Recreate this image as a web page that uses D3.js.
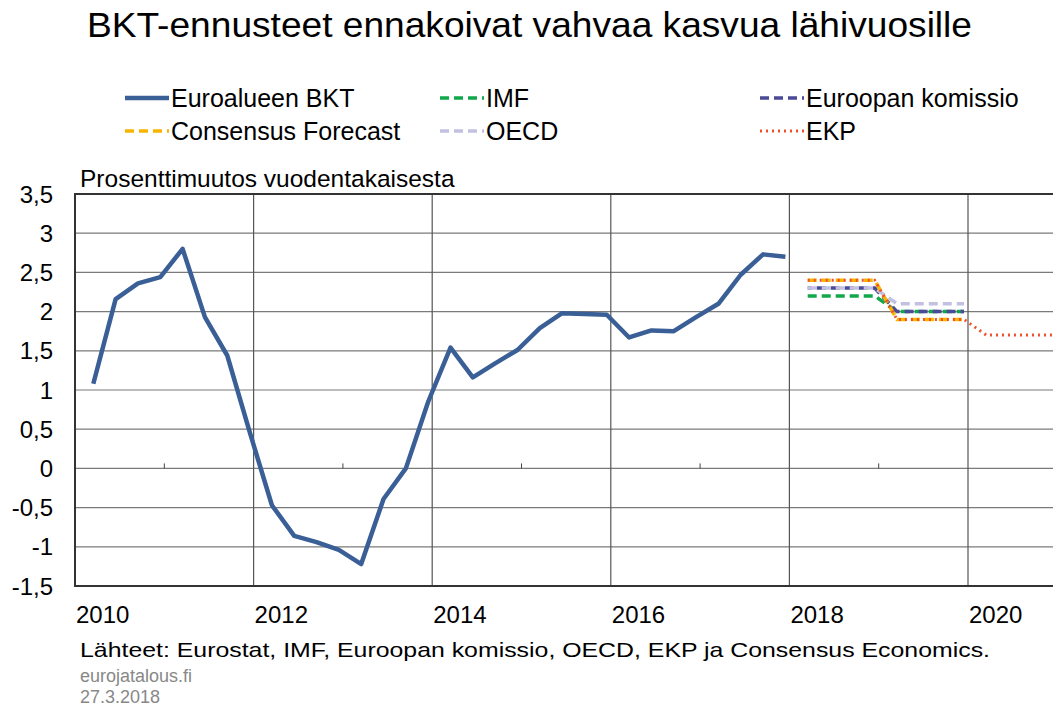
<!DOCTYPE html>
<html>
<head>
<meta charset="utf-8">
<script src="https://cdn.jsdelivr.net/npm/d3@7"></script>
<style>
    body { margin: 0; background: #fff; }
    svg { font-family: 'Liberation Sans', Arial, sans-serif; }
</style>
</head>
<body>
<div id="chart"></div>
<script>
// Euro area GDP, y/y %, quarterly from 2010Q1 to 2017Q4
const gdpStartYear = 2010;
const gdpValues = [1.08, 2.16, 2.36, 2.44, 2.80, 1.93, 1.44, 0.47,
    -0.47, -0.86, -0.94, -1.04, -1.22, -0.39, 0.00, 0.85,
    1.54, 1.16, 1.34, 1.51, 1.79, 1.98, 1.97, 1.96,
    1.67, 1.76, 1.75, 1.93, 2.10, 2.47, 2.73, 2.70];

// annual forecasts, drawn as flat quarterly steps
const forecastYears = [2018, 2019, 2020];
const imfValues = [2.2, 2.0];
const commissionValues = [2.3, 2.0];
const consensusValues = [2.4, 1.9];
const oecdValues = [2.3, 2.1];
const ekpValues = [2.4, 1.9, 1.7];

const yTicks = [3.5, 3, 2.5, 2, 1.5, 1, 0.5, 0, -0.5, -1, -1.5];
const xTicks = [2010, 2012, 2014, 2016, 2018, 2020];
const xMinorTicks = [2011, 2013, 2015, 2017, 2019];

const width = 1053, height = 709;
const svg = d3.select('#chart').append('svg')
    .attr('width', width)
    .attr('height', height);

let plot = { left: 75, top: 194, right: 1070, bottom: 586 };

let x = d3.scaleLinear().domain([2010, 2020]).range([75, 968]);
let y = d3.scaleLinear().domain([-1.5, 3.5]).range([plot.bottom, plot.top]);

// quarter position inside its year
let qPos = (year, q) => year + 0.205 + 0.25 * q;

let gdpPoints = gdpValues.map((v, i) => ({
    x: qPos(gdpStartYear + Math.floor(i / 4), i % 4),
    v: v
}));

function stepPoints(values) {
    let pts = [];
    values.forEach((v, k) => {
        for(let q = 0; q < 4; q++) {
            pts.push({ x: qPos(forecastYears[k], q), v: v });
        }
    });
    return pts;
}

svg.append('text')
    .attr('x', 87)
    .attr('y', 37)
    .attr('textLength', 885)
    .attr('lengthAdjust', 'spacingAndGlyphs')
    .style('font-size', '35px')
    .text('BKT-ennusteet ennakoivat vahvaa kasvua lähivuosille');

// legend
let series = [
    { name: 'Euroalueen BKT', color: '#3a5e96', dash: null, w: 4.5, col: 0, row: 0 },
    { name: 'IMF', color: '#10a84a', dash: '9,5', w: 3.5, col: 1, row: 0 },
    { name: 'Euroopan komissio', color: '#4b4a96', dash: '9,5', w: 3.5, col: 2, row: 0 },
    { name: 'Consensus Forecast', color: '#f7b500', dash: '9,5', w: 3.5, col: 0, row: 1 },
    { name: 'OECD', color: '#c3c1e2', dash: '9,5', w: 3.5, col: 1, row: 1 },
    { name: 'EKP', color: '#f0502a', dash: '2,4', w: 3, col: 2, row: 1 }
];
let legendCols = [125, 440, 760];
let legendRows = [98, 131];

let legend = svg.append('g').classed('legend', true);
series.forEach(s => {
    let lx = legendCols[s.col], ly = legendRows[s.row];
    legend.append('line')
        .attr('x1', lx).attr('x2', lx + 44)
        .attr('y1', ly).attr('y2', ly)
        .attr('stroke', s.color)
        .attr('stroke-width', s.w)
        .attr('stroke-dasharray', s.dash);
    legend.append('text')
        .attr('x', lx + 46)
        .attr('y', ly + 9)
        .style('font-size', '25px')
        .text(s.name);
});

svg.append('text')
    .attr('x', 80)
    .attr('y', 187)
    .style('font-size', '24.5px')
    .text('Prosenttimuutos vuodentakaisesta');

let grid = svg.append('g').classed('grid', true);
grid.selectAll('line.h')
    .data(yTicks)
    .enter().append('line')
    .attr('x1', plot.left).attr('x2', plot.right)
    .attr('y1', d => y(d)).attr('y2', d => y(d))
    .attr('stroke', '#7a7a7a')
    .attr('stroke-width', 1.2);

grid.selectAll('line.v')
    .data(xTicks)
    .enter().append('line')
    .attr('x1', d => x(d)).attr('x2', d => x(d))
    .attr('y1', plot.top).attr('y2', plot.bottom)
    .attr('stroke', '#555')
    .attr('stroke-width', 1.2);

grid.selectAll('line.minor')
    .data(xMinorTicks)
    .enter().append('line')
    .attr('x1', d => x(d)).attr('x2', d => x(d))
    .attr('y1', y(0) - 5).attr('y2', y(0))
    .attr('stroke', '#444')
    .attr('stroke-width', 1);

// frame
svg.append('path')
    .attr('d', `M${plot.right},${plot.top}H${plot.left}V${plot.bottom}H${plot.right}`)
    .attr('fill', 'none')
    .attr('stroke', '#333')
    .attr('stroke-width', 2);

svg.append('g').selectAll('text')
    .data(yTicks)
    .enter().append('text')
    .attr('x', 53)
    .attr('y', d => y(d) + 8.5)
    .attr('text-anchor', 'end')
    .style('font-size', '24px')
    .text(d => String(d).replace('.', ','));

svg.append('g').selectAll('text')
    .data(xTicks)
    .enter().append('text')
    .attr('x', d => x(d) + 1)
    .attr('y', 623)
    .style('font-size', '24px')
    .text(d => d);

let line = d3.line()
    .x(d => x(d.x))
    .y(d => y(d.v));

let lines = svg.append('g').classed('lines', true);

let forecasts = [
    { values: imfValues, s: series[1], offset: 0 },
    { values: commissionValues, s: series[2], offset: 5 },
    { values: oecdValues, s: series[4], offset: 0 },
    { values: consensusValues, s: series[3], offset: 0 },
    { values: ekpValues, s: series[5], offset: 0 }
];
forecasts.forEach(f => {
    lines.append('path')
        .attr('d', line(stepPoints(f.values)))
        .attr('fill', 'none')
        .attr('stroke', f.s.color)
        .attr('stroke-width', f.s.w)
        .attr('stroke-dasharray', f.s.dash)
        .attr('stroke-dashoffset', f.offset);
});

lines.append('path')
    .attr('d', line(gdpPoints))
    .attr('fill', 'none')
    .attr('stroke', series[0].color)
    .attr('stroke-width', series[0].w)
    .attr('stroke-linejoin', 'round');

svg.append('text')
    .attr('x', 80)
    .attr('y', 657)
    .attr('textLength', 910)
    .attr('lengthAdjust', 'spacingAndGlyphs')
    .style('font-size', '21px')
    .text('Lähteet: Eurostat, IMF, Euroopan komissio, OECD, EKP ja Consensus Economics.');

svg.append('text')
    .attr('x', 80)
    .attr('y', 682)
    .attr('fill', '#888')
    .style('font-size', '18px')
    .text('eurojatalous.fi');

svg.append('text')
    .attr('x', 80)
    .attr('y', 703)
    .attr('fill', '#888')
    .style('font-size', '18px')
    .text('27.3.2018');
</script>
</body>
</html>
